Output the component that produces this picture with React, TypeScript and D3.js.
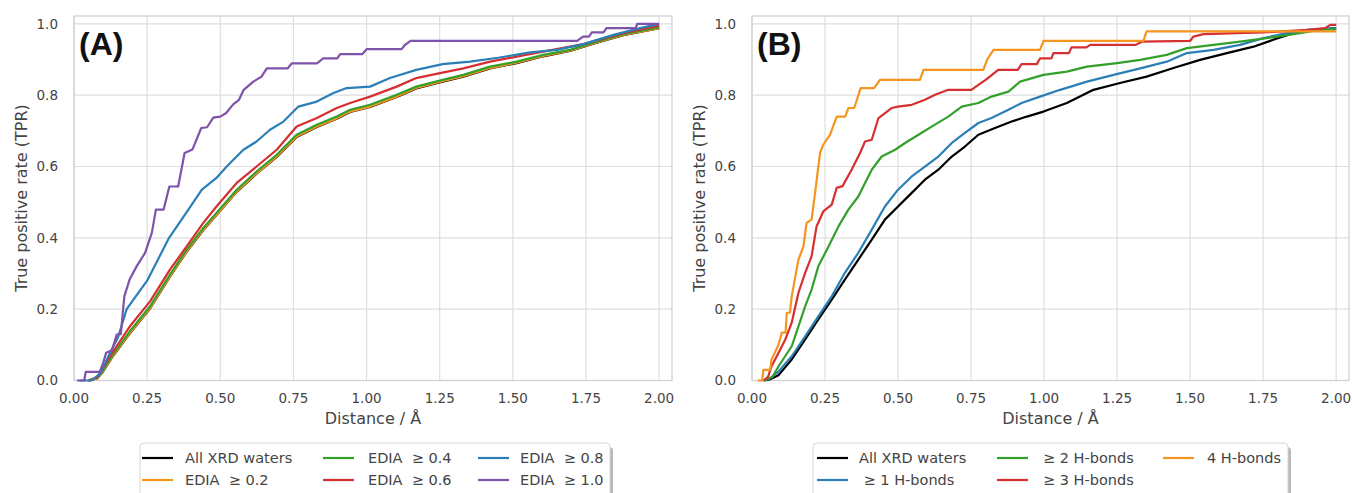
import React from "react";
import * as d3 from "d3";

type Pt = [number, number];

const distTicks = [0, 0.25, 0.5, 0.75, 1.0, 1.25, 1.5, 1.75, 2.0];
const tprTicks = [0, 0.2, 0.4, 0.6, 0.8, 1.0];

// ---- panel A : EDIA thresholds
const allXrdA: Pt[] = [[0.05,0],[0.08,0.006],[0.1,0.026],[0.13,0.065],[0.191,0.132],[0.26,0.202],[0.328,0.291],[0.385,0.361],[0.442,0.422],[0.487,0.464],[0.556,0.529],[0.624,0.58],[0.693,0.627],[0.761,0.683],[0.83,0.711],[0.898,0.734],[0.944,0.753],[1.012,0.767],[1.103,0.795],[1.17,0.819],[1.26,0.838],[1.331,0.852],[1.422,0.875],[1.513,0.89],[1.604,0.909],[1.695,0.924],[1.787,0.947],[1.878,0.968],[2.0,0.988]];
const edia02: Pt[] = [[0.05,0],[0.08,0.006],[0.1,0.027],[0.13,0.066],[0.191,0.133],[0.26,0.203],[0.328,0.292],[0.385,0.362],[0.442,0.423],[0.487,0.465],[0.556,0.53],[0.624,0.581],[0.693,0.628],[0.761,0.684],[0.83,0.712],[0.898,0.735],[0.944,0.754],[1.012,0.768],[1.103,0.796],[1.17,0.82],[1.26,0.839],[1.331,0.853],[1.422,0.876],[1.513,0.891],[1.604,0.91],[1.695,0.925],[1.787,0.948],[1.878,0.969],[2.0,0.988]];
const edia04: Pt[] = [[0.05,0],[0.08,0.008],[0.1,0.03],[0.13,0.07],[0.191,0.138],[0.26,0.208],[0.328,0.297],[0.385,0.367],[0.442,0.428],[0.487,0.47],[0.556,0.535],[0.624,0.586],[0.693,0.633],[0.761,0.689],[0.83,0.717],[0.898,0.74],[0.944,0.759],[1.012,0.773],[1.103,0.801],[1.17,0.824],[1.26,0.843],[1.331,0.857],[1.422,0.88],[1.513,0.894],[1.604,0.913],[1.695,0.927],[1.787,0.95],[1.878,0.971],[2.0,0.99]];
const edia06: Pt[] = [[0.05,0],[0.08,0.01],[0.1,0.035],[0.123,0.068],[0.191,0.152],[0.26,0.222],[0.328,0.311],[0.385,0.376],[0.442,0.442],[0.487,0.488],[0.556,0.554],[0.624,0.6],[0.693,0.647],[0.761,0.712],[0.83,0.736],[0.898,0.764],[0.944,0.778],[1.012,0.796],[1.103,0.824],[1.17,0.848],[1.251,0.862],[1.331,0.875],[1.422,0.894],[1.513,0.908],[1.604,0.922],[1.741,0.943],[1.878,0.974],[2.0,0.995]];
const edia08: Pt[] = [[0.02,0],[0.06,0],[0.09,0.02],[0.123,0.078],[0.15,0.12],[0.18,0.2],[0.25,0.28],[0.325,0.4],[0.391,0.479],[0.437,0.535],[0.487,0.568],[0.522,0.6],[0.579,0.647],[0.624,0.67],[0.67,0.703],[0.716,0.726],[0.767,0.768],[0.83,0.782],[0.887,0.806],[0.932,0.82],[1.012,0.824],[1.08,0.848],[1.17,0.871],[1.26,0.887],[1.354,0.894],[1.45,0.905],[1.559,0.92],[1.65,0.927],[1.741,0.943],[1.844,0.969],[1.935,0.988],[2.0,1.0]];
const edia10: Pt[] = [[0.01,0],[0.035,0],[0.04,0.024],[0.088,0.024],[0.1,0.05],[0.11,0.078],[0.13,0.085],[0.146,0.129],[0.16,0.13],[0.172,0.236],[0.19,0.283],[0.214,0.32],[0.243,0.358],[0.266,0.414],[0.28,0.479],[0.306,0.479],[0.326,0.544],[0.356,0.544],[0.378,0.638],[0.405,0.648],[0.435,0.708],[0.455,0.71],[0.476,0.737],[0.5,0.74],[0.52,0.75],[0.545,0.775],[0.564,0.787],[0.58,0.815],[0.613,0.838],[0.641,0.852],[0.659,0.875],[0.73,0.875],[0.744,0.889],[0.83,0.889],[0.852,0.903],[0.9,0.903],[0.91,0.915],[0.985,0.915],[1.0,0.929],[1.12,0.929],[1.13,0.94],[1.15,0.952],[1.72,0.952],[1.74,0.964],[1.76,0.964],[1.77,0.976],[1.81,0.976],[1.82,0.988],[1.92,0.988],[1.925,1.0],[2.0,1.0]];

// ---- panel B : H-bond counts
const allXrdB: Pt[] = [[0.04,0],[0.06,0.003],[0.091,0.015],[0.136,0.059],[0.182,0.115],[0.227,0.171],[0.273,0.227],[0.318,0.283],[0.364,0.339],[0.41,0.395],[0.455,0.451],[0.5,0.488],[0.547,0.526],[0.592,0.563],[0.638,0.591],[0.684,0.628],[0.729,0.656],[0.775,0.689],[0.832,0.708],[0.889,0.726],[0.941,0.74],[0.998,0.754],[1.078,0.778],[1.169,0.815],[1.26,0.834],[1.351,0.852],[1.443,0.876],[1.534,0.899],[1.626,0.918],[1.717,0.936],[1.808,0.962],[1.877,0.98],[2.0,0.988]];
const hb1: Pt[] = [[0.04,0],[0.06,0.005],[0.091,0.025],[0.136,0.068],[0.182,0.124],[0.227,0.18],[0.273,0.236],[0.318,0.302],[0.364,0.358],[0.41,0.423],[0.455,0.488],[0.5,0.535],[0.547,0.572],[0.592,0.6],[0.638,0.628],[0.684,0.666],[0.729,0.694],[0.775,0.722],[0.82,0.736],[0.878,0.759],[0.923,0.778],[0.986,0.796],[1.055,0.815],[1.147,0.838],[1.238,0.857],[1.329,0.875],[1.42,0.894],[1.489,0.918],[1.58,0.927],[1.671,0.941],[1.751,0.96],[1.832,0.974],[1.9,0.983],[2.0,0.988]];
const hb2: Pt[] = [[0.04,0],[0.07,0.01],[0.091,0.04],[0.136,0.096],[0.159,0.152],[0.182,0.208],[0.204,0.255],[0.227,0.32],[0.262,0.376],[0.296,0.432],[0.33,0.479],[0.364,0.516],[0.387,0.554],[0.41,0.591],[0.444,0.628],[0.49,0.647],[0.524,0.666],[0.57,0.689],[0.615,0.712],[0.672,0.74],[0.718,0.768],[0.775,0.778],[0.82,0.796],[0.878,0.81],[0.918,0.838],[0.998,0.857],[1.078,0.866],[1.147,0.88],[1.25,0.89],[1.329,0.899],[1.42,0.913],[1.489,0.932],[1.58,0.941],[1.671,0.95],[1.762,0.96],[1.854,0.971],[1.945,0.983],[2.0,0.985]];
const hb3: Pt[] = [[0.04,0],[0.055,0.01],[0.067,0.04],[0.091,0.078],[0.114,0.115],[0.136,0.162],[0.159,0.246],[0.182,0.302],[0.204,0.348],[0.221,0.432],[0.244,0.474],[0.273,0.493],[0.29,0.54],[0.31,0.545],[0.341,0.591],[0.37,0.638],[0.387,0.67],[0.41,0.675],[0.433,0.736],[0.478,0.764],[0.5,0.768],[0.547,0.773],[0.592,0.787],[0.627,0.801],[0.672,0.815],[0.751,0.815],[0.775,0.829],[0.8,0.843],[0.843,0.871],[0.91,0.871],[0.923,0.887],[0.975,0.887],[0.986,0.903],[1.025,0.903],[1.032,0.918],[1.085,0.918],[1.094,0.934],[1.145,0.934],[1.158,0.941],[1.314,0.941],[1.334,0.95],[1.5,0.952],[1.511,0.964],[1.546,0.971],[1.751,0.976],[1.9,0.983],[1.962,0.988],[1.98,0.997],[2.0,0.997]];
const hb4: Pt[] = [[0.02,0],[0.035,0],[0.039,0.03],[0.062,0.03],[0.067,0.059],[0.078,0.078],[0.091,0.101],[0.102,0.134],[0.115,0.134],[0.119,0.19],[0.13,0.19],[0.136,0.236],[0.159,0.339],[0.176,0.376],[0.187,0.442],[0.204,0.451],[0.216,0.526],[0.233,0.638],[0.244,0.661],[0.267,0.689],[0.29,0.74],[0.319,0.74],[0.33,0.764],[0.35,0.764],[0.372,0.82],[0.418,0.82],[0.438,0.843],[0.575,0.843],[0.587,0.871],[0.792,0.871],[0.805,0.9],[0.827,0.927],[0.986,0.927],[0.998,0.952],[1.34,0.952],[1.351,0.979],[2.0,0.979]];

const labelsA = ["All XRD waters", "EDIA  \u2265 0.2", "EDIA  \u2265 0.4", "EDIA  \u2265 0.6", "EDIA  \u2265 0.8", "EDIA  \u2265 1.0"];
const colorsA = ["#000000", "#f5951f", "#33a02c", "#d62f2f", "#2b7fb6", "#7f52ab"];
const labelsB = ["All XRD waters", " \u2265 1 H-bonds", "\u2265 2 H-bonds", "\u2265 3 H-bonds", "4 H-bonds"];
const colorsB = ["#000000", "#2b7fb6", "#33a02c", "#d62f2f", "#f5951f"];

const FONT = "DejaVu Sans, sans-serif";
const INK = "#444444";

type Legend = { x: number; w: number; handleX: number[]; textX: number[] };

function Panel({ left, right, tag, data, labels, colors, legend }: {
  left: number; right: number; tag: string; data: Pt[][]; labels: string[]; colors: string[]; legend: Legend;
}) {
  const top = 16, bottom = 380.5;
  const x = d3.scaleLinear().domain([0, 2.044]).range([left, right]);
  const y = d3.scaleLinear().domain([0, 1.022]).range([bottom, top]);
  const line = d3.line<Pt>().x(d => x(d[0])).y(d => y(d[1]));
  const midX = (left + right) / 2;

  return (
    <g>
      {distTicks.map(t => (
        <line key={"gx" + t} x1={x(t)} x2={x(t)} y1={top} y2={bottom} stroke="#dedede" strokeWidth={1.2} />
      ))}
      {tprTicks.map(t => (
        <line key={"gy" + t} x1={left} x2={right} y1={y(t)} y2={y(t)} stroke="#dedede" strokeWidth={1.2} />
      ))}
      <rect x={left} y={top} width={right - left} height={bottom - top} fill="none" stroke="#d2d2d2" strokeWidth={1.3} />
      {data.map((pts, i) => (
        <path key={i} d={line(pts) || ""} fill="none" stroke={colors[i]} strokeWidth={2.2} strokeLinejoin="round" />
      ))}
      {distTicks.map(t => (
        <text key={"tx" + t} x={x(t)} y={403} textAnchor="middle" fontFamily={FONT} fontSize={13.5} fill={INK}>
          {d3.format(".2f")(t)}
        </text>
      ))}
      {tprTicks.map(t => (
        <text key={"ty" + t} x={left - 16} y={y(t)} dy="0.36em" textAnchor="end" fontFamily={FONT} fontSize={13.5} fill={INK}>
          {d3.format(".1f")(t)}
        </text>
      ))}
      <text x={midX} y={424} textAnchor="middle" fontFamily={FONT} fontSize={16} fill={INK}>Distance / Å</text>
      <text transform={`translate(${left - 47},198) rotate(-90)`} textAnchor="middle" fontFamily={FONT} fontSize={16} fill={INK}>
        True positive rate (TPR)
      </text>
      <text x={left + 5} y={55} fontFamily="Liberation Sans, Arial, sans-serif" fontWeight="bold" fontSize={32} fill="#111">{tag}</text>

      <rect x={legend.x + 3} y={447} width={legend.w} height={70} rx={4} fill="#8a8a8a" opacity={0.6} />
      <rect x={legend.x} y={443} width={legend.w} height={70} rx={4} fill="#fff" stroke="#d6d6d6" strokeWidth={1} />
      {labels.map((lab, i) => {
        const col = Math.floor(i / 2), row = i % 2;
        const cy = 458 + row * 22;
        const hx = legend.x + legend.handleX[col];
        return (
          <g key={lab}>
            <line x1={hx} x2={hx + 31} y1={cy} y2={cy} stroke={colors[i]} strokeWidth={2.2} />
            <text x={legend.x + legend.textX[col]} y={cy} dy="0.36em" fontFamily={FONT} fontSize={14.5} fill={INK} style={{ whiteSpace: "pre" }}>
              {lab}
            </text>
          </g>
        );
      })}
    </g>
  );
}

export default function App() {
  return (
    <svg width={1352} height={493} style={{ position: "absolute", left: 0, top: 0, background: "#fff" }}>
      <Panel left={74} right={672} tag="(A)"
        data={[allXrdA, edia02, edia04, edia06, edia08, edia10]}
        labels={labelsA} colors={colorsA}
        legend={{ x: 140, w: 470, handleX: [2, 183, 338], textX: [45, 228, 380] }} />
      <Panel left={752} right={1349} tag="(B)"
        data={[allXrdB, hb1, hb2, hb3, hb4]}
        labels={labelsB} colors={colorsB}
        legend={{ x: 813, w: 475, handleX: [4, 184, 350], textX: [46, 230, 394] }} />
    </svg>
  );
}
